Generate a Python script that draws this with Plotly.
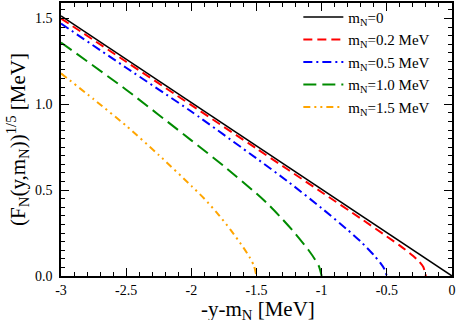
import plotly.graph_objects as go

# values
x_m0 = [-3.0, 0.0]
y_m0 = [1.515, 0.0]

x_m02 = [-3.0, -2.5, -2.0, -1.5, -1.0, -0.7, -0.5, -0.4, -0.3, -0.25, -0.22, -0.2]
y_m02 = [1.50, 1.248, 0.995, 0.742, 0.488, 0.335, 0.230, 0.177, 0.118, 0.082, 0.052, 0.0]

x_m05 = [-3.0, -2.5, -2.0, -1.5, -1.25, -1.0, -0.8, -0.7, -0.6, -0.55, -0.52, -0.5]
y_m05 = [1.47, 1.213, 0.958, 0.685, 0.545, 0.395, 0.268, 0.2, 0.122, 0.076, 0.042, 0.0]

x_m10 = [-3.0, -2.5, -2.0, -1.75, -1.5, -1.4, -1.3, -1.2, -1.1, -1.05, -1.02, -1.0]
y_m10 = [1.36, 1.085, 0.79, 0.64, 0.48, 0.41, 0.33, 0.245, 0.15, 0.095, 0.055, 0.0]

x_m15 = [-3.0, -2.75, -2.5, -2.25, -2.0, -1.9, -1.8, -1.7, -1.6, -1.55, -1.52, -1.5]
y_m15 = [1.18, 1.03, 0.875, 0.705, 0.525, 0.45, 0.365, 0.27, 0.165, 0.105, 0.06, 0.0]

x_ticks = [-3, -2.5, -2, -1.5, -1, -0.5, 0]
x_ticktext = ['-3', '-2.5', '-2', '-1.5', '-1', '-0.5', '0']
y_ticks = [0, 0.5, 1.0, 1.5]
y_ticktext = ['0.0', '0.5', '1.0', '1.5']

FONT = 'Liberation Serif, Times New Roman, serif'

series = [
    (x_m0, y_m0, 'm<sub>N</sub>=0', 'black', 1.5, 'solid'),
    (x_m02, y_m02, 'm<sub>N</sub>=0.2 MeV', '#ff0000', 2, '9px,5px'),
    (x_m05, y_m05, 'm<sub>N</sub>=0.5 MeV', '#0000ff', 2, '9px,4px,2px,4px'),
    (x_m10, y_m10, 'm<sub>N</sub>=1.0 MeV', '#008b00', 2, '13px,6px'),
    (x_m15, y_m15, 'm<sub>N</sub>=1.5 MeV', '#ffa500', 2, '7px,4px,2px,4px,2px,4px'),
]

fig = go.Figure()
for xs, ys, name, color, width, dash in series:
    fig.add_trace(go.Scatter(
        x=xs, y=ys, name=name, mode='lines',
        line=dict(color=color, width=width, dash=dash, shape='spline', smoothing=0.6),
    ))

axis_common = dict(
    showline=True, linecolor='black', linewidth=1.5, mirror='ticks',
    ticks='inside', ticklen=8, tickwidth=1.2, tickcolor='black',
    showgrid=False, zeroline=False, automargin=False,
    tickfont=dict(family=FONT, size=14, color='black'),
)

fig.update_xaxes(
    range=[-3, 0], tickvals=x_ticks, ticktext=x_ticktext,
    minor=dict(ticks='inside', ticklen=4, dtick=0.1, tick0=0, tickcolor='black', showgrid=False),
    **axis_common,
)
fig.update_yaxes(
    range=[0, 1.59], tickvals=y_ticks, ticktext=y_ticktext,
    minor=dict(ticks='inside', ticklen=4, dtick=0.05, tick0=0, tickcolor='black', showgrid=False),
    title=dict(text='(F<sub>N</sub>(y,m<sub>N</sub>))<sup>1/5</sup> [MeV]',
               font=dict(family=FONT, size=21, color='black'), standoff=4),
    ticklabelstandoff=4,
    **axis_common,
)

# x-axis title as an annotation so it can sit low, as in the original
fig.add_annotation(
    text='-y-m<sub>N</sub> [MeV]', xref='paper', yref='paper',
    x=0.503, y=-0.124, xanchor='center', yanchor='middle', showarrow=False,
    font=dict(family=FONT, size=21, color='black'),
)

fig.update_layout(
    width=457, height=320,
    margin=dict(l=61, r=5, t=2, b=44),
    plot_bgcolor='white', paper_bgcolor='white',
    font=dict(family=FONT, color='black'),
    showlegend=True,
    legend=dict(
        x=0.607, y=1.005, xanchor='left', yanchor='top',
        font=dict(family=FONT, size=15, color='black'),
        bgcolor='rgba(0,0,0,0)', tracegroupgap=0, itemwidth=40,
    ),
)

# the page body has a default 8px margin; drop it so the figure sits at 0,0
fig.write_html('out.html', config={'displayModeBar': False},
               post_script="document.body.style.margin='0px';")
